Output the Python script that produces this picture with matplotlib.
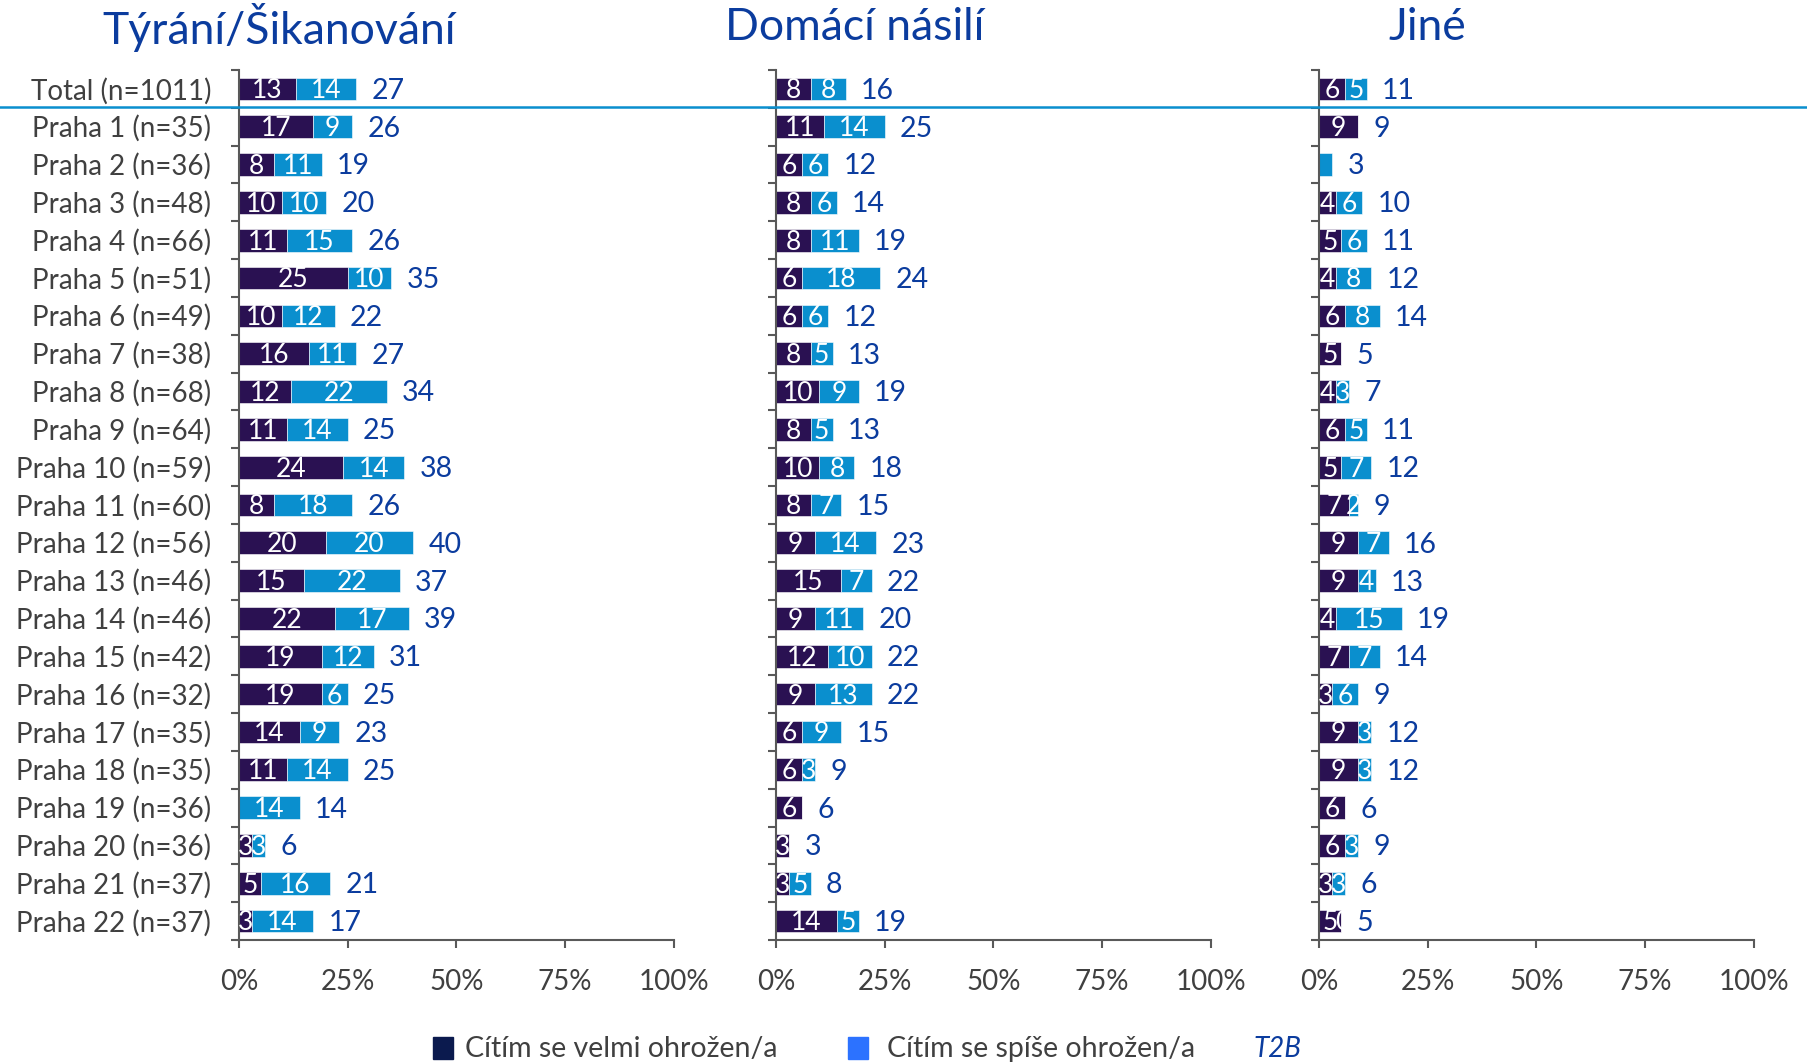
import matplotlib.pyplot as plt
import matplotlib.transforms as mtransforms
from matplotlib.lines import Line2D
from matplotlib.patches import Rectangle

# ------------------------- DATA -------------------------

categories = ['Total (n=1011)', 'Praha 1 (n=35)', 'Praha 2 (n=36)', 'Praha 3 (n=48)',
              'Praha 4 (n=66)', 'Praha 5 (n=51)', 'Praha 6 (n=49)', 'Praha 7 (n=38)',
              'Praha 8 (n=68)', 'Praha 9 (n=64)', 'Praha 10 (n=59)', 'Praha 11 (n=60)',
              'Praha 12 (n=56)', 'Praha 13 (n=46)', 'Praha 14 (n=46)', 'Praha 15 (n=42)',
              'Praha 16 (n=32)', 'Praha 17 (n=35)', 'Praha 18 (n=35)', 'Praha 19 (n=36)',
              'Praha 20 (n=36)', 'Praha 21 (n=37)', 'Praha 22 (n=37)']

panel_titles = ['Týrání/Šikanování', 'Domácí násilí', 'Jiné']

# Cítím se velmi ohrožen/a
tyrani_velmi = [13, 17, 8, 10, 11, 25, 10, 16, 12, 11, 24, 8, 20, 15, 22, 19, 19, 14, 11, 0, 3, 5, 3]
domaci_velmi = [8, 11, 6, 8, 8, 6, 6, 8, 10, 8, 10, 8, 9, 15, 9, 12, 9, 6, 6, 6, 3, 3, 14]
jine_velmi = [6, 9, 0, 4, 5, 4, 6, 5, 4, 6, 5, 7, 9, 9, 4, 7, 3, 9, 9, 6, 6, 3, 5]

# Cítím se spíše ohrožen/a
tyrani_spise = [14, 9, 11, 10, 15, 10, 12, 11, 22, 14, 14, 18, 20, 22, 17, 12, 6, 9, 14, 14, 3, 16, 14]
domaci_spise = [8, 14, 6, 6, 11, 18, 6, 5, 9, 5, 8, 7, 14, 7, 11, 10, 13, 9, 3, 0, 0, 5, 5]
jine_spise = [5, 0, 3, 6, 6, 8, 8, 0, 3, 5, 7, 2, 7, 4, 15, 7, 6, 3, 3, 0, 3, 3, 0]

# T2B
tyrani_t2b = [27, 26, 19, 20, 26, 35, 22, 27, 34, 25, 38, 26, 40, 37, 39, 31, 25, 23, 25, 14, 6, 21, 17]
domaci_t2b = [16, 25, 12, 14, 19, 24, 12, 13, 19, 13, 18, 15, 23, 22, 20, 22, 22, 15, 9, 6, 3, 8, 19]
jine_t2b = [11, 9, 3, 10, 11, 12, 14, 5, 7, 11, 12, 9, 16, 13, 19, 14, 9, 12, 12, 6, 9, 6, 5]

legend_labels = ['Cítím se velmi ohrožen/a', 'Cítím se spíše ohrožen/a']

# labels that the original shows differently (panel, row)
skip_spise_label = [(2, 2)]
zero_spise_label = [(2, 22)]

# ------------------------- STYLE -------------------------

FONT = 'Lato'
dark = '#2a1152'
light = '#0a8fce'
blue_txt = '#0b3c9e'
grey_txt = '#404040'
axis_col = '#595959'

plt.rcParams['font.family'] = [FONT, 'DejaVu Sans']

fig = plt.figure(figsize=(18.08, 10.63), dpi=100)
W, H = 1808, 1063

panel_x = [239, 776, 1319]
panel_w = 435
ax_top, ax_bot = 70, 940

velmi = [tyrani_velmi, domaci_velmi, jine_velmi]
spise = [tyrani_spise, domaci_spise, jine_spise]
t2b = [tyrani_t2b, domaci_t2b, jine_t2b]
title_x = [279, 855, 1427]

n = len(categories)
ypos = list(range(n))
axes = []

for p in range(3):
    ax = fig.add_axes([panel_x[p] / W, 1 - ax_bot / H, panel_w / W, (ax_bot - ax_top) / H])
    axes.append(ax)

    ax.barh(ypos, velmi[p], height=0.6, color=dark, edgecolor='white', linewidth=0.4)
    ax.barh(ypos, spise[p], left=velmi[p], height=0.6, color=light, edgecolor='white', linewidth=0.4)

    for i in range(n):
        v, s = velmi[p][i], spise[p][i]
        yl = i + 0.05
        if v > 0:
            ax.text(v / 2, yl, str(v), ha='center', va='center', color='white', fontsize=19)
        if s > 0 and (p, i) not in skip_spise_label:
            ax.text(v + s / 2, yl, str(s), ha='center', va='center', color='white', fontsize=19)
        if (p, i) in zero_spise_label:
            ax.text(v + 0.4, yl, '0', ha='center', va='center', color='white', fontsize=19)
        ax.annotate(str(t2b[p][i]), (v + s, yl), xytext=(11, 0), textcoords='offset points',
                    ha='left', va='center', color=blue_txt, fontsize=20.5)

    ax.set_xlim(0, 100)
    ax.set_ylim(n - 0.5, -0.5)
    ax.set_xticks([0, 25, 50, 75, 100])
    ax.set_xticklabels(['0%', '25%', '50%', '75%', '100%'], fontsize=20, color=grey_txt)
    ax.set_yticks([i - 0.5 for i in range(n + 1)])
    ax.set_yticklabels([])
    ax.tick_params(axis='both', colors=axis_col, width=1.5, length=6)
    ax.tick_params(axis='x', pad=15, labelcolor=grey_txt)
    for side in ['top', 'right']:
        ax.spines[side].set_visible(False)
    for side in ['left', 'bottom']:
        ax.spines[side].set_color(axis_col)
        ax.spines[side].set_linewidth(1.5)

    fig.text(title_x[p] / W, 1 - 28 / H, panel_titles[p], ha='center', va='center',
             fontsize=32, color=blue_txt)

# category names on the left panel
for i, c in enumerate(categories):
    axes[0].annotate(c, (0, i + 0.05), xytext=(-20, 0), textcoords='offset points',
                     ha='right', va='center', fontsize=20, color=grey_txt)

# separator line under Total
trans = mtransforms.blended_transform_factory(fig.transFigure, axes[0].transData)
fig.add_artist(Line2D([0, 1], [0.47, 0.47], transform=trans, color=light, linewidth=1.8))

# legend
leg_y = 1 - 1049 / H
fig.add_artist(Rectangle((433 / W, leg_y - 10 / H), 20 / W, 22 / H, transform=fig.transFigure,
                         color='#0b1a4e'))
fig.text(465 / W, leg_y, legend_labels[0], ha='left', va='center', fontsize=20.5, color=grey_txt)
fig.add_artist(Rectangle((848 / W, leg_y - 10 / H), 20 / W, 22 / H, transform=fig.transFigure,
                         color='#2c72ff'))
fig.text(887 / W, leg_y, legend_labels[1], ha='left', va='center', fontsize=20.5, color=grey_txt)
fig.text(1253 / W, leg_y, 'T2B', ha='left', va='center', fontsize=20, color=blue_txt,
         style='italic')

fig.savefig('out.png', dpi=100)
